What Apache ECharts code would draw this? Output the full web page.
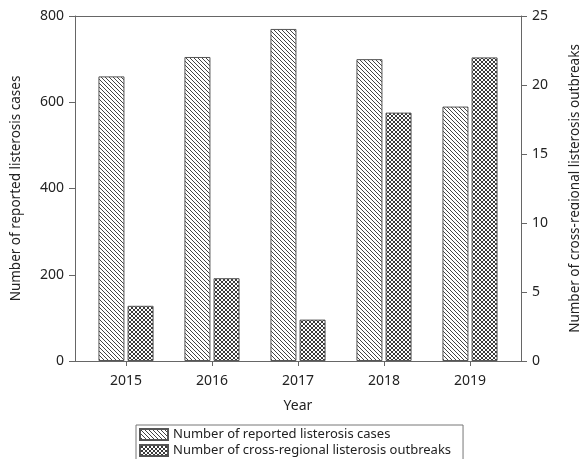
<!DOCTYPE html>
<html>
<head>
<meta charset="utf-8">
<script src="https://cdn.jsdelivr.net/npm/echarts@6/dist/echarts.min.js"></script>
<style>
html,body{margin:0;padding:0;background:#fff;overflow:hidden;}
#chart{width:579px;height:459px;}
</style>
</head>
<body>
<div id="chart"></div>
<script>
const years = ['2015', '2016', '2017', '2018', '2019'];
const casesName = 'Number of reported listerosis cases';
const outbreaksName = 'Number of cross-regional listerosis outbreaks';
const cases = [660, 705, 770, 700, 590];
const outbreaks = [4, 6, 3, 18, 22];
const leftTicks = {min: 0, max: 800, interval: 200};
const rightTicks = {min: 0, max: 25, interval: 5};

function makePattern(cross) {
  const s = 4;
  const c = document.createElement('canvas');
  c.width = s; c.height = s;
  const ctx = c.getContext('2d');
  ctx.fillStyle = '#fff';
  ctx.fillRect(0, 0, s, s);
  ctx.strokeStyle = cross ? '#3a3a3a' : '#444';
  ctx.lineWidth = 1;
  ctx.beginPath();
  for (let k = -s; k <= s; k += s) {
    ctx.moveTo(k, 0); ctx.lineTo(k + s, s);
    if (cross) { ctx.moveTo(k, s); ctx.lineTo(k + s, 0); }
  }
  ctx.stroke();
  return {image: c, repeat: 'repeat'};
}

const FONT = 'Noto Sans';
const TXT = '#222';
const AX = '#666';

const chart = echarts.init(document.getElementById('chart'), null, {renderer: 'canvas'});
chart.setOption({
  animation: false,
  backgroundColor: '#fff',
  textStyle: {fontFamily: FONT},
  grid: [
    {left: 83, right: 66, top: 16, bottom: 98, containLabel: false, outerBoundsMode: 'none'},
    {left: 75, right: 58, top: 16, bottom: 98, containLabel: false, outerBoundsMode: 'none'}
  ],
  legend: {
    orient: 'vertical',
    left: 136,
    top: 425,
    height: 60,
    icon: 'rect',
    itemWidth: 28,
    itemHeight: 11,
    itemGap: 3,
    padding: [3, 12, 10, 3],
    borderColor: '#777',
    borderWidth: 1,
    textStyle: {fontFamily: FONT, fontSize: 13, color: TXT},
    data: [casesName, outbreaksName]
  },
  xAxis: [
    {
      type: 'category', gridIndex: 0, data: years,
      name: 'Year', nameLocation: 'middle', nameGap: 38,
      nameTextStyle: {fontFamily: FONT, fontSize: 14, color: TXT},
      axisLine: {show: false},
      axisTick: {show: true, alignWithLabel: true, length: 5, lineStyle: {color: AX}},
      axisLabel: {fontFamily: FONT, fontSize: 14, color: TXT, margin: 13},
      splitLine: {show: false}
    },
    {
      type: 'value', gridIndex: 1, position: 'bottom', min: 0, max: 1,
      axisLine: {show: true, lineStyle: {color: AX, width: 1}},
      axisTick: {show: false}, axisLabel: {show: false}, splitLine: {show: false}
    },
    {
      type: 'value', gridIndex: 1, position: 'top', min: 0, max: 1,
      axisLine: {show: true, lineStyle: {color: AX, width: 1}},
      axisTick: {show: false}, axisLabel: {show: false}, splitLine: {show: false}
    }
  ],
  yAxis: [
    {
      type: 'value', gridIndex: 0, position: 'left', offset: 8,
      min: leftTicks.min, max: leftTicks.max, interval: leftTicks.interval,
      name: casesName, nameLocation: 'middle', nameGap: 52, nameRotate: 90,
      nameTextStyle: {fontFamily: FONT, fontSize: 13.5, color: TXT},
      axisLine: {show: true, lineStyle: {color: AX}},
      axisTick: {show: true, length: 6, lineStyle: {color: AX}},
      axisLabel: {fontFamily: FONT, fontSize: 14, color: TXT, margin: 11},
      splitLine: {show: false}
    },
    {
      type: 'value', gridIndex: 0, position: 'right', offset: 8,
      min: rightTicks.min, max: rightTicks.max, interval: rightTicks.interval,
      name: outbreaksName, nameLocation: 'middle', nameGap: 47, nameRotate: 90,
      nameTextStyle: {fontFamily: FONT, fontSize: 13.5, color: TXT},
      axisLine: {show: true, lineStyle: {color: AX}},
      axisTick: {show: true, length: 6, lineStyle: {color: AX}},
      axisLabel: {fontFamily: FONT, fontSize: 14, color: TXT, margin: 11},
      splitLine: {show: false}
    },
    {
      type: 'value', gridIndex: 1, show: false, min: 0, max: 1
    }
  ],
  series: [
    {
      name: casesName, type: 'bar', xAxisIndex: 0, yAxisIndex: 0,
      data: cases, barWidth: 26, barGap: '12%',
      itemStyle: {color: makePattern(false), borderColor: '#555', borderWidth: 1}
    },
    {
      name: outbreaksName, type: 'bar', xAxisIndex: 0, yAxisIndex: 1,
      data: outbreaks, barWidth: 26, barGap: '12%',
      itemStyle: {color: makePattern(true), borderColor: '#555', borderWidth: 1}
    }
  ]
});
</script>
</body>
</html>
